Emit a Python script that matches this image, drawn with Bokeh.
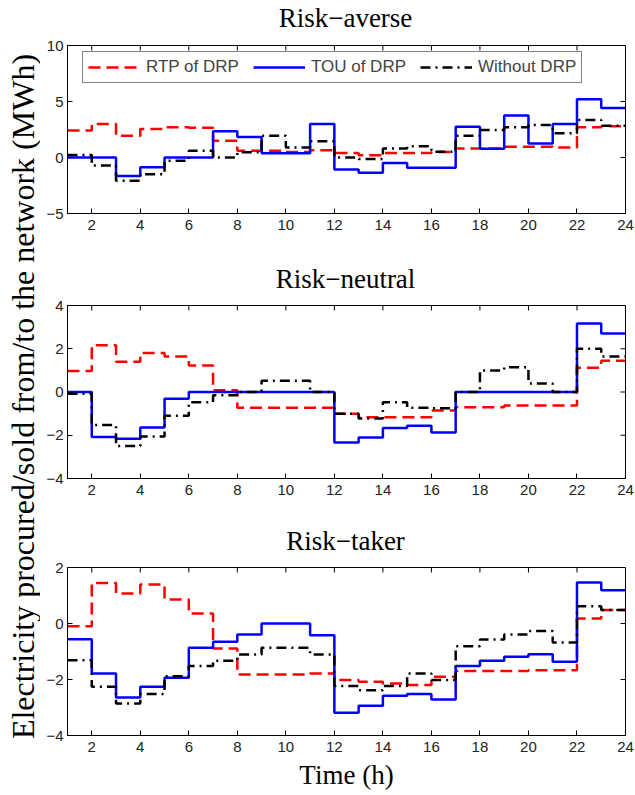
import math
from bokeh.plotting import figure
from bokeh.layouts import row, column
from bokeh.models import Range1d, FixedTicker, Label, Legend
from bokeh.embed import file_html
from bokeh.resources import INLINE

hours = list(range(1, 25))

titles = ["Risk\u2212averse", "Risk\u2212neutral", "Risk\u2212taker"]
series_names = ["RTP of DRP", "TOU of DRP", "Without DRP"]

rtp_averse = [2.4, 3.0, 1.95, 2.55, 2.7, 2.65, 1.5, 0.6, 0.6, 0.5, 0.65, 0.4, 0.2, 0.4, 0.4, 0.5,
              0.8, 0.8, 0.95, 0.95, 0.9, 2.7, 2.8, 2.8]
tou_averse = [0, 0, -1.65, -0.87, 0, 0, 2.34, 1.82, 0.38, 0.38, 2.98, -1.07, -1.36, -0.49, -0.92,
              -0.92, 2.75, 0.78, 3.76, 1.24, 2.98, 5.2, 4.42, 4.42]
wo_averse = [0.23, -0.72, -2.08, -1.5, -0.29, 0.6, 0, 0.46, 1.94, 0.9, 1.45, 0, -0.14, 0.8, 1.0,
             0.52, 1.94, 2.46, 2.69, 2.9, 2.17, 3.35, 2.83, 2.83]

rtp_neutral = [0.97, 2.16, 1.4, 1.8, 1.64, 1.22, 0.08, -0.73, -0.73, -0.73, -0.73, -1.0, -1.17,
               -1.17, -1.17, -0.86, -0.7, -0.7, -0.62, -0.62, -0.62, 1.12, 1.44, 1.44]
tou_neutral = [0, -2.08, -2.16, -1.64, -0.31, 0, 0, 0, 0, 0, 0, -2.34, -2.1, -1.67, -1.56, -1.87,
               0, 0, 0, 0, 0, 3.17, 2.7, 2.7]
wo_neutral = [-0.08, -1.53, -2.5, -2.06, -1.1, -0.47, -0.15, 0, 0.52, 0.52, 0, -1.0, -1.22, -0.47,
              -0.73, -0.75, 0, 1.0, 1.14, 0.39, 0, 2.0, 1.64, 1.64]

rtp_taker = [-0.1, 1.45, 1.07, 1.39, 0.86, 0.36, -0.89, -1.82, -1.82, -1.82, -1.79, -2.02, -2.08,
             -2.14, -2.2, -1.9, -1.7, -1.7, -1.7, -1.67, -1.67, 0.18, 0.48, 0.48]
tou_taker = [-0.56, -1.79, -2.64, -2.26, -1.94, -0.87, -0.65, -0.39, 0, 0, -0.42, -3.19, -2.94,
             -2.58, -2.52, -2.71, -1.52, -1.33, -1.19, -1.1, -1.37, 1.46, 1.19, 1.19]
wo_taker = [-1.31, -2.26, -2.86, -2.52, -1.88, -1.52, -1.33, -1.11, -0.87, -0.87, -1.11, -2.23,
            -2.38, -2.23, -1.79, -2.02, -0.81, -0.57, -0.39, -0.27, -0.68, 0.62, 0.48, 0.48]

x_ticks = list(range(2, 25, 2))
y_ticks = [[-5, 0, 5, 10], [-4, -2, 0, 2, 4], [-4, -2, 0, 2]]
y_limits = [(-5, 10), (-4, 4), (-4, 2)]
data = [(rtp_averse, tou_averse, wo_averse),
        (rtp_neutral, tou_neutral, wo_neutral),
        (rtp_taker, tou_taker, wo_taker)]

colors = ["#ff0000", "#0000ff", "#000000"]
dashes = ["12 6", "solid", "10 5 2 5"]

SERIF = "Liberation Serif"
SANS = "Liberation Sans"

# layout geometry (pixels)
fig_w = 595
frame_w = 558
left_b = 27
top_b = 10
title_h = [35, 37, 37]          # height of the strip holding each panel title
title_from_bottom = [18, 17, 17]
title_x = 278
frames = [168, 173, 168]
bottoms = [45, 42, 60]
XMIN, XMAX = 1, 24


def style_axis(ax):
    ax.axis_line_color = "black"
    ax.axis_line_width = 1
    ax.major_tick_line_color = "black"
    ax.major_tick_in = 5
    ax.major_tick_out = 0
    ax.minor_tick_line_color = None
    ax.major_label_text_font = SANS
    ax.major_label_text_font_size = "15px"
    ax.major_label_text_color = "#222222"
    ax.major_label_standoff = 4


def text_strip(w, h):
    f = figure(width=w, height=h, output_backend="svg", toolbar_location=None,
               x_axis_type=None, y_axis_type=None, x_range=Range1d(0, 1),
               y_range=Range1d(0, 1), min_border=0)
    f.grid.visible = False
    f.outline_line_color = None
    return f


items = []
for i in range(3):
    ylo, yhi = y_limits[i]

    t = text_strip(fig_w, title_h[i])
    t.add_layout(Label(x=title_x, y=title_from_bottom[i],
                       x_units="screen", y_units="screen",
                       text=titles[i], text_align="center", text_baseline="middle",
                       text_font=SERIF, text_font_size="27px", text_color="black"))
    items.append(t)

    h = top_b + frames[i] + bottoms[i]
    p = figure(width=fig_w, height=h, output_backend="svg", toolbar_location=None,
               x_range=Range1d(XMIN, XMAX), y_range=Range1d(ylo, yhi),
               min_border_left=left_b, min_border_right=fig_w - left_b - frame_w,
               min_border_top=top_b, min_border_bottom=bottoms[i])
    p.grid.visible = False
    p.outline_line_color = "black"
    p.outline_line_width = 1
    p.background_fill_color = "white"
    p.border_fill_color = "white"

    xax = p.below[0]
    yax = p.left[0]
    xax.ticker = FixedTicker(ticks=x_ticks)
    yax.ticker = FixedTicker(ticks=y_ticks[i])
    style_axis(xax)
    style_axis(yax)
    xax.major_label_standoff = 6

    # inward ticks on the top and right edges of the box
    p.ray(x=x_ticks, y=[yhi] * len(x_ticks), length=5, length_units="screen",
          angle=-math.pi / 2, line_color="black", line_width=1)
    p.ray(x=[XMAX] * len(y_ticks[i]), y=y_ticks[i], length=5, length_units="screen",
          angle=math.pi, line_color="black", line_width=1)

    renderers = []
    for vals, c, d in zip(data[i], colors, dashes):
        r = p.step(hours, vals, mode="after", line_color=c, line_width=2.5, line_dash=d)
        renderers.append(r)

    if i == 0:
        legend = Legend(items=[(n, [r]) for n, r in zip(series_names, renderers)],
                        orientation="horizontal", location=(15, frames[i] - 8 - 30),
                        label_text_font=SANS, label_text_font_size="17px",
                        glyph_width=52, glyph_height=20, label_height=20,
                        label_standoff=6, spacing=14, padding=5, margin=0,
                        border_line_color="black", border_line_width=1,
                        background_fill_color="white", background_fill_alpha=1)
        p.add_layout(legend, "center")

    if i == 2:
        xax.axis_label = "Time (h)"
        xax.axis_label_text_font = SERIF
        xax.axis_label_text_font_size = "27px"
        xax.axis_label_text_font_style = "normal"
        xax.axis_label_text_color = "black"
        xax.axis_label_standoff = 5
    items.append(p)

total_h = sum(title_h) + sum(top_b + f + b for f, b in zip(frames, bottoms))
lab = text_strip(635 - fig_w, total_h)
lab.add_layout(Label(x=22, y=total_h - 396, x_units="screen", y_units="screen",
                     text="Electricity procured/sold from/to the network (MWh)",
                     angle=math.pi / 2, text_align="center", text_baseline="middle",
                     text_font=SERIF, text_font_size="32px", text_color="black"))

layout = row(lab, column(*items, spacing=0), spacing=0)
open("out.html", "w").write(file_html(layout, INLINE))
